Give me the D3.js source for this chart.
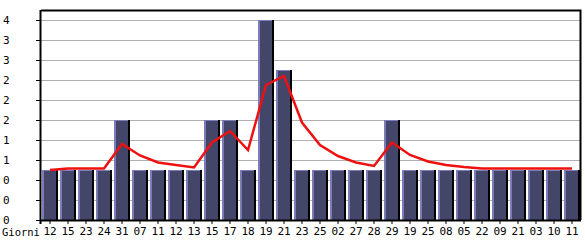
<!DOCTYPE html>
<html>
<head>
<meta charset="utf-8">
<script src="https://cdn.jsdelivr.net/npm/d3@7"></script>
<style>
    body { margin: 0; background: #fff; }
    text { font-family: "DejaVu Sans Mono", monospace; font-size: 11px; fill: #000; }
</style>
</head>
<body>
<div id="chart"></div>
<script>
"use strict"

// Days (x categories), visits per day and the red trend line
const days = ["12","15","23","24","31","07","11","12","13","15","17","18","19","21","23",
              "25","02","27","28","29","19","25","08","05","22","09","21","03","10","11"];
const visits = [1,1,1,1,2,1,1,1,1,2,2,1,4,3,1,1,1,1,1,2,1,1,1,1,1,1,1,1,1,1];
const trend = [1.0,1.03,1.03,1.03,1.52,1.29,1.15,1.1,1.05,1.55,1.78,1.4,2.7,2.88,1.95,
               1.5,1.28,1.15,1.08,1.55,1.3,1.17,1.1,1.06,1.03,1.03,1.03,1.03,1.03,1.03];
const yTicks = [0,0.4,0.8,1.2,1.6,2.0,2.4,2.8,3.2,3.6,4.0];

const figWidth = 585;
const figHeight = 240;
const margin = {top: 10, bottom: 20, left: 41, right: 4};
const width = figWidth - margin.left - margin.right;
const height = figHeight - margin.top - margin.bottom;

let svg = d3.select("#chart").append("svg")
    .attr("width", figWidth)
    .attr("height", figHeight);

let plot = svg.append("g")
    .attr("transform", `translate(${margin.left}, ${margin.top})`);

let xScale = d3.scaleBand()
    .domain(d3.range(days.length))
    .range([0, width]);
let yScale = d3.scaleLinear()
    .domain([0, 4.2])
    .range([height, 0]);

// gridlines
plot.append("g")
    .selectAll("line")
    .data(yTicks.slice(1))
    .enter().append("line")
        .attr("x1", 0)
        .attr("x2", width)
        .attr("y1", d => Math.round(yScale(d)) + 0.5)
        .attr("y2", d => Math.round(yScale(d)) + 0.5)
        .style("stroke", "#b0b0b0");

// frame (top and right)
plot.append("path")
    .attr("d", `M0,0.5H${width - 0.5}V${height}`)
    .style("fill", "none")
    .style("stroke", "#000")
    .style("stroke-width", 2);

// bars: light edge, dark body, black shadow on the right
let bars = plot.append("g").selectAll("g")
    .data(visits)
    .enter().append("g")
        .attr("transform", (d, i) => `translate(${xScale(i) + 1}, 0)`);

bars.append("rect")
    .attr("x", 0)
    .attr("y", d => Math.round(yScale(d)))
    .attr("width", 16)
    .attr("height", d => height - Math.round(yScale(d)))
    .style("fill", "#000");
bars.append("rect")
    .attr("x", 0)
    .attr("y", d => Math.round(yScale(d)))
    .attr("width", 14)
    .attr("height", d => height - Math.round(yScale(d)))
    .style("fill", "#7b7cb8");
bars.append("rect")
    .attr("x", 2)
    .attr("y", d => Math.round(yScale(d)) + 1)
    .attr("width", 12)
    .attr("height", d => height - Math.round(yScale(d)) - 1)
    .style("fill", "#434569");

// trend line
let line = d3.line()
    .x((d, i) => xScale(i) + xScale.bandwidth() / 2)
    .y(d => yScale(d));

plot.append("path")
    .datum(trend)
    .attr("d", line)
    .style("fill", "none")
    .style("stroke", "#ee1111")
    .style("stroke-width", 2.5);

// axes
let xAxis = d3.axisBottom(xScale)
    .tickFormat(i => days[i])
    .tickSize(4)
    .tickSizeOuter(0);
let yAxis = d3.axisLeft(yScale)
    .tickValues(yTicks)
    .tickSize(5)
    .tickSizeOuter(0)
    .tickFormat(d => Math.floor(d + 1e-9));

let gx = plot.append("g")
    .attr("transform", `translate(0, ${height})`)
    .call(xAxis);
gx.select(".domain").attr("d", `M-1,0.5H${width}`).style("stroke-width", 2);
gx.selectAll(".tick text").attr("dy", "0.95em").attr("y", 5);

let gy = plot.append("g")
    .call(yAxis);
gy.select(".domain").attr("d", `M-0.5,0V${height + 4}`).style("stroke-width", 2);
gy.selectAll(".tick text")
    .attr("text-anchor", "start")
    .attr("x", -margin.left + 3);

svg.append("text")
    .attr("x", 2)
    .attr("y", figHeight - 4)
    .style("font-size", "10.5px")
    .text("Giorni");
</script>
</body>
</html>
